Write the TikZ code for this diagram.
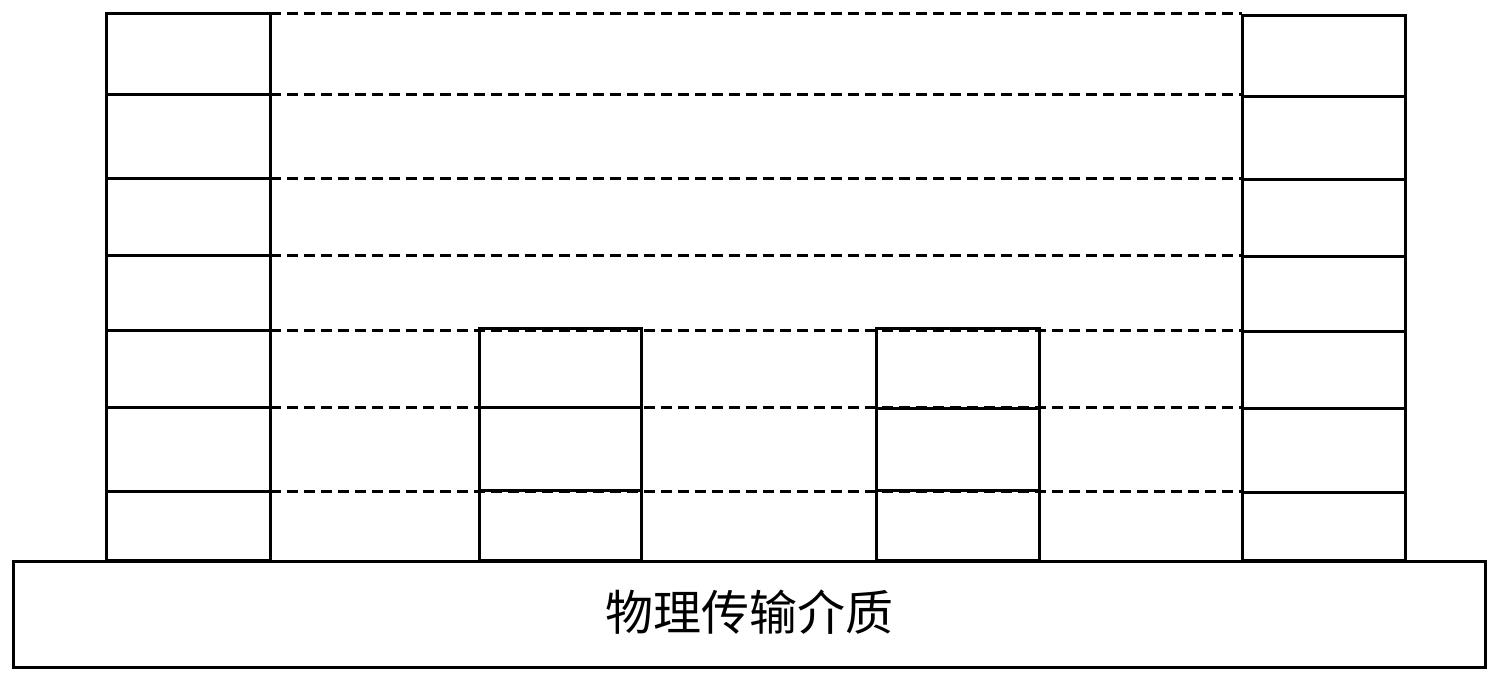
\documentclass[tikz,border=0pt]{standalone}
\usepackage{fontspec}
\newfontfamily\cjk{Noto Sans CJK SC}
\begin{document}
\begin{tikzpicture}[x=1pt,y=-1pt,
  cell/.style={draw=black, line width=3pt, inner sep=0pt, outer sep=0pt},
  layerline/.style={draw=black, line width=3pt, dash pattern=on 11pt off 6pt}]
\useasboundingbox (0,0) rectangle (1494,678);
% left stack
\foreach \i/\t/\b in {1/13/94,2/94/178,3/178/255,4/255/330,5/330/407,6/407/491,7/491/560}
  \node[cell, minimum width=164pt, minimum height={(\b-\t)*1pt}] (L\i) at (188,{(\t+\b)/2}) {};
% right stack
\foreach \i/\t/\b in {1/15/96,2/96/179,3/179/256,4/256/331,5/331/408,6/408/492,7/492/560}
  \node[cell, minimum width=163pt, minimum height={(\b-\t)*1pt}] (R\i) at (1323.5,{(\t+\b)/2}) {};
% dashed peer lines
\foreach \i in {1,...,7}
  \draw[layerline] (L\i.north east) -- (L\i.north east -| R\i.west);
% middle stacks
\foreach \i/\t/\b in {1/328/407,2/407/490,3/490/560}
  \node[cell, minimum width=162pt, minimum height={(\b-\t)*1pt}] (A\i) at (560,{(\t+\b)/2}) {};
\foreach \i/\t/\b in {1/328/408,2/408/490,3/490/560}
  \node[cell, minimum width=163pt, minimum height={(\b-\t)*1pt}] (B\i) at (957.5,{(\t+\b)/2}) {};
% medium
\node[cell, minimum width=1472pt, minimum height=106pt, font=\cjk\fontsize{48}{48}\selectfont] (medium) at (749,614) {\raisebox{8pt}{物理传输介质}};
\end{tikzpicture}
\end{document}
